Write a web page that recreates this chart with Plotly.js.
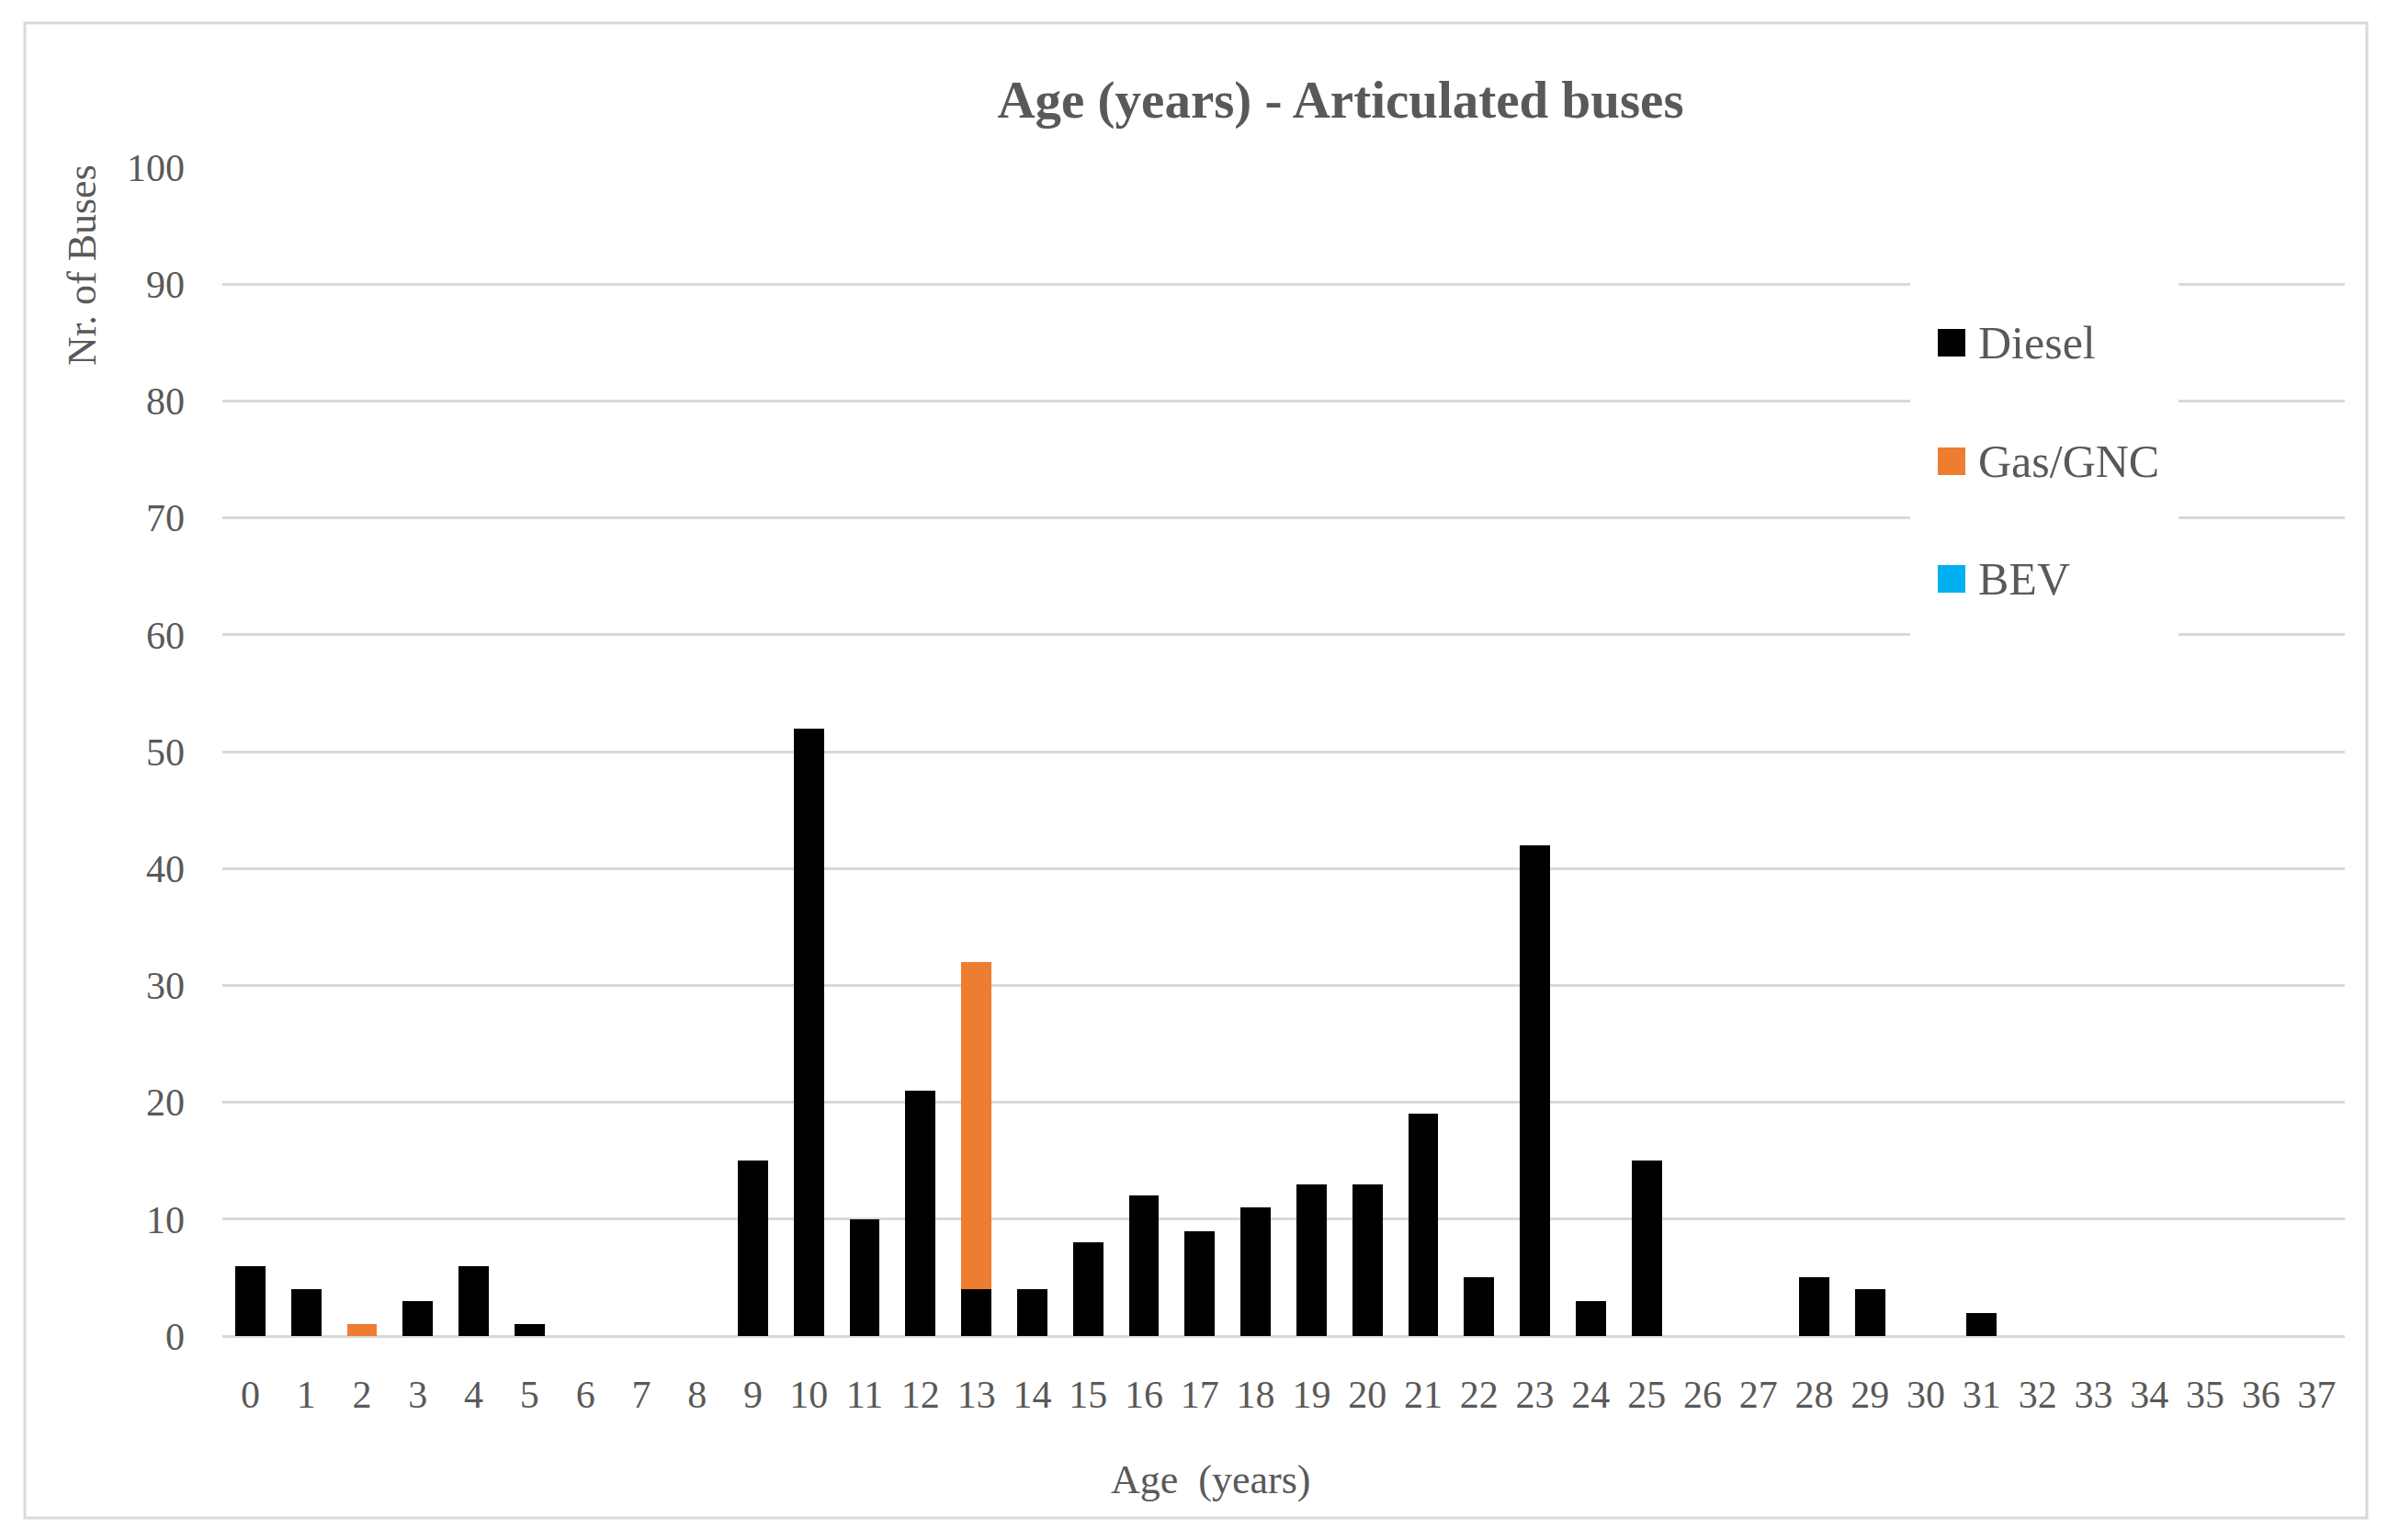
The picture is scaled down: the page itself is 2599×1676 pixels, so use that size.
<!DOCTYPE html>
<html>
<head>
<meta charset="utf-8">
<script src="https://cdn.plot.ly/plotly-3.0.1.min.js"></script>
<style>
html,body{margin:0;padding:0;background:#ffffff;}
#chart{width:2599px;height:1676px;}
</style>
</head>
<body>
<div id="chart"></div>
<script>
// ---- data ----
const ages = ["0","1","2","3","4","5","6","7","8","9","10","11","12","13","14","15","16","17","18","19","20","21","22","23","24","25","26","27","28","29","30","31","32","33","34","35","36","37"];
const diesel = [6,4,0,3,6,1,0,0,0,15,52,10,21,4,4,8,12,9,11,13,13,19,5,42,3,15,0,0,5,4,0,2,0,0,0,0,0,0];
const gasGNC = [0,0,1,0,0,0,0,0,0,0,0,0,0,28,0,0,0,0,0,0,0,0,0,0,0,0,0,0,0,0,0,0,0,0,0,0,0,0];
const bev    = [0,0,0,0,0,0,0,0,0,0,0,0,0,0,0,0,0,0,0,0,0,0,0,0,0,0,0,0,0,0,0,0,0,0,0,0,0,0];
const seriesNames = ["Diesel","Gas/GNC","BEV"];
const seriesColors = ["#000000","#ED7D31","#00B0F0"];
const yTicks = [0,10,20,30,40,50,60,70,80,90,100];

// ---- geometry ----
const W = 2599, H = 1676;
const L = 242, R = 2552, T = 182, B = 1454;
const px = x => (x - L) / (R - L);
const py = y => (B - y) / (B - T);
const FONT = "'Liberation Serif', 'Times New Roman', serif";
const GREY = "#595959";

const seriesValues = [diesel, gasGNC, bev];
const traces = seriesValues.map((vals, i) => ({
  type: "bar",
  name: seriesNames[i],
  x: ages,
  y: vals,
  marker: {color: seriesColors[i], line: {width: 0}},
  showlegend: false,
  hoverinfo: "x+y+name"
}));

const shapes = [
  // outer border
  {type:"rect", xref:"paper", yref:"paper", x0:px(27), x1:px(2576), y0:py(1652), y1:py(25),
   line:{color:"#d9d9d9", width:3}, fillcolor:"rgba(0,0,0,0)", layer:"above"},
  // legend background hiding gridlines
  {type:"rect", xref:"paper", yref:"paper", x0:px(2079), x1:px(2371), y0:py(705), y1:py(295),
   line:{width:0}, fillcolor:"#ffffff", layer:"above"}
];
const annotations = [
  {xref:"paper", yref:"paper", x:px(89), y:py(289), text:"Nr. of Buses", textangle:-90,
   showarrow:false, xanchor:"center", yanchor:"middle", font:{family:FONT, size:44, color:GREY}},
  {xref:"paper", yref:"paper", x:px(1317), y:py(1610), text:"Age&nbsp;&nbsp;(years)",
   showarrow:false, xanchor:"center", yanchor:"middle", font:{family:FONT, size:44, color:GREY}}
];
const legendY = [373, 502, 630];
seriesNames.forEach((n, i) => {
  shapes.push({type:"rect", xref:"paper", yref:"paper",
    x0:px(2109), x1:px(2139), y0:py(legendY[i]+15), y1:py(legendY[i]-15),
    line:{width:0}, fillcolor:seriesColors[i], layer:"above"});
  annotations.push({xref:"paper", yref:"paper", x:px(2151), y:py(legendY[i]), text:n,
    showarrow:false, xanchor:"left", yanchor:"middle", font:{family:FONT, size:50, color:GREY}});
});

const layout = {
  width: W, height: H,
  margin: {l: L, r: W - R, t: T, b: H - B, pad: 0},
  paper_bgcolor: "#ffffff",
  plot_bgcolor: "#ffffff",
  barmode: "stack",
  bargap: 0.46,
  showlegend: false,
  title: {text: "Age (years) - Articulated buses", x: 1459 / W, xref: "container", xanchor: "center",
          y: 1 - 108 / H, yref: "container", yanchor: "middle",
          font: {family: FONT, size: 57, color: GREY, weight: "bold"}},
  xaxis: {
    type: "category",
    categoryorder: "array",
    categoryarray: ages,
    tickvals: ages,
    ticktext: ages,
    showgrid: false,
    zeroline: false,
    showline: false,
    ticks: "",
    ticklabelstandoff: 35,
    tickfont: {family: FONT, size: 42, color: GREY},
    range: [-0.5, ages.length - 0.5]
  },
  yaxis: {
    range: [0, 100],
    tickvals: yTicks,
    ticktext: yTicks.map(String),
    showgrid: true,
    gridcolor: "#d9d9d9",
    gridwidth: 3,
    zeroline: true,
    zerolinecolor: "#d9d9d9",
    zerolinewidth: 3,
    showline: false,
    ticks: "",
    ticklabelstandoff: 40,
    tickfont: {family: FONT, size: 42, color: GREY}
  },
  shapes: shapes,
  annotations: annotations,
  font: {family: FONT, color: GREY}
};

Plotly.newPlot("chart", traces, layout, {displayModeBar: false, staticPlot: true});
</script>
</body>
</html>
